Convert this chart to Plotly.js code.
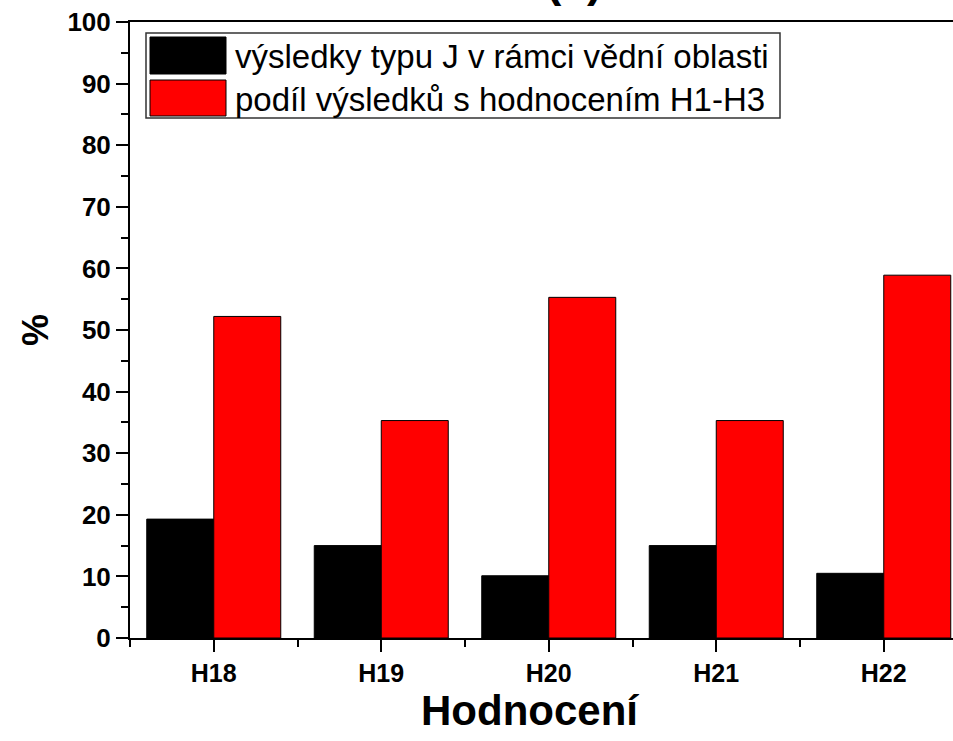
<!DOCTYPE html>
<html>
<head>
<meta charset="utf-8">
<script src="https://cdn.plot.ly/plotly-3.0.1.min.js"></script>
<style>html,body{margin:0;padding:0;background:#fff;}</style>
</head>
<body>
<div id="chart" style="width:953px;height:741px;"></div>
<script>
const categories = ["H18", "H19", "H20", "H21", "H22"];
const seriesNames = ["výsledky typu J v rámci vědní oblasti", "podíl výsledků s hodnocením H1-H3"];
const typeJ = [19.3, 15.0, 10.1, 15.0, 10.5];
const shareH1H3 = [52.2, 35.3, 55.3, 35.3, 58.9];
const yTicks = [0, 10, 20, 30, 40, 50, 60, 70, 80, 90, 100];
const titleText = "(a)";
const xTitle = "Hodnocení";
const yTitle = "%";

const idx = categories.map((c, i) => i);
const minorX = [-0.5].concat(idx.map(i => i + 0.5));

const fam = "Arial, 'Liberation Sans', sans-serif";
const bold = {family: fam, weight: "bold", color: "#000"};

const traces = [
  {type: "bar", x: idx, y: typeJ, name: seriesNames[0],
   marker: {color: "#000000", line: {color: "#000000", width: 1}}},
  {type: "bar", x: idx, y: shareH1H3, name: seriesNames[1],
   marker: {color: "#ff0000", line: {color: "#000000", width: 1}}}
];

const L = 130, R = 953, T = 22, B = 638;
const px = v => (v - L) / (R - L);
const py = v => (B - v) / (B - T);

const layout = {
  width: 953, height: 741,
  margin: {l: L, r: 953 - R, t: T, b: 741 - B, pad: 0},
  paper_bgcolor: "#fff", plot_bgcolor: "#fff",
  showlegend: false,
  barmode: "group", bargap: 0.2, bargroupgap: 0,
  xaxis: {
    range: [-0.5, -0.5 + (R - L) / 167.5],
    tickmode: "array", tickvals: idx, ticktext: categories,
    ticks: "outside", ticklen: 12, tickwidth: 2, tickcolor: "#000",
    minor: {tickmode: "array", tickvals: minorX, ticks: "outside", ticklen: 7, tickwidth: 2, tickcolor: "#000"},
    showline: true, linewidth: 2, linecolor: "#000", mirror: true,
    showgrid: false, zeroline: false,
    tickfont: Object.assign({size: 25}, bold)
  },
  yaxis: {
    range: [0, 100],
    tickmode: "array", tickvals: yTicks,
    ticks: "outside", ticklen: 12, tickwidth: 2, tickcolor: "#000",
    minor: {dtick: 5, ticks: "outside", ticklen: 7, tickwidth: 2, tickcolor: "#000"},
    showline: true, linewidth: 2, linecolor: "#000", mirror: false,
    showgrid: false, zeroline: false,
    tickfont: Object.assign({size: 26}, bold),
    title: {text: yTitle, font: Object.assign({size: 36}, bold), standoff: 8}
  },
  shapes: [
    {type: "rect", xref: "paper", yref: "paper", x0: px(146), x1: px(780), y0: py(118), y1: py(33),
     line: {color: "#333", width: 1.5}, fillcolor: "#fff", layer: "above"},
    {type: "rect", xref: "paper", yref: "paper", x0: px(150), x1: px(226), y0: py(74), y1: py(37),
     line: {color: "#000", width: 1}, fillcolor: "#000", layer: "above"},
    {type: "rect", xref: "paper", yref: "paper", x0: px(150), x1: px(226), y0: py(116), y1: py(80),
     line: {color: "#000", width: 1}, fillcolor: "#ff0000", layer: "above"}
  ],
  annotations: [
    {xref: "paper", yref: "paper", x: px(233), y: py(56), xanchor: "left", yanchor: "middle",
     text: seriesNames[0], showarrow: false,
     font: {family: fam, size: 33, color: "#000"}},
    {xref: "paper", yref: "paper", x: px(233), y: py(99), xanchor: "left", yanchor: "middle",
     text: seriesNames[1], showarrow: false,
     font: {family: fam, size: 33, color: "#000"}},
    {xref: "paper", yref: "paper", x: px(530), y: py(710), xanchor: "center", yanchor: "middle",
     text: xTitle, showarrow: false,
     font: Object.assign({size: 42}, bold)},
    {xref: "paper", yref: "paper", x: px(574), y: py(-20), xanchor: "center", yanchor: "middle",
     text: titleText, showarrow: false,
     font: Object.assign({size: 46}, bold)}
  ]
};

Plotly.newPlot("chart", traces, layout, {displayModeBar: false, staticPlot: true});
</script>
</body>
</html>
